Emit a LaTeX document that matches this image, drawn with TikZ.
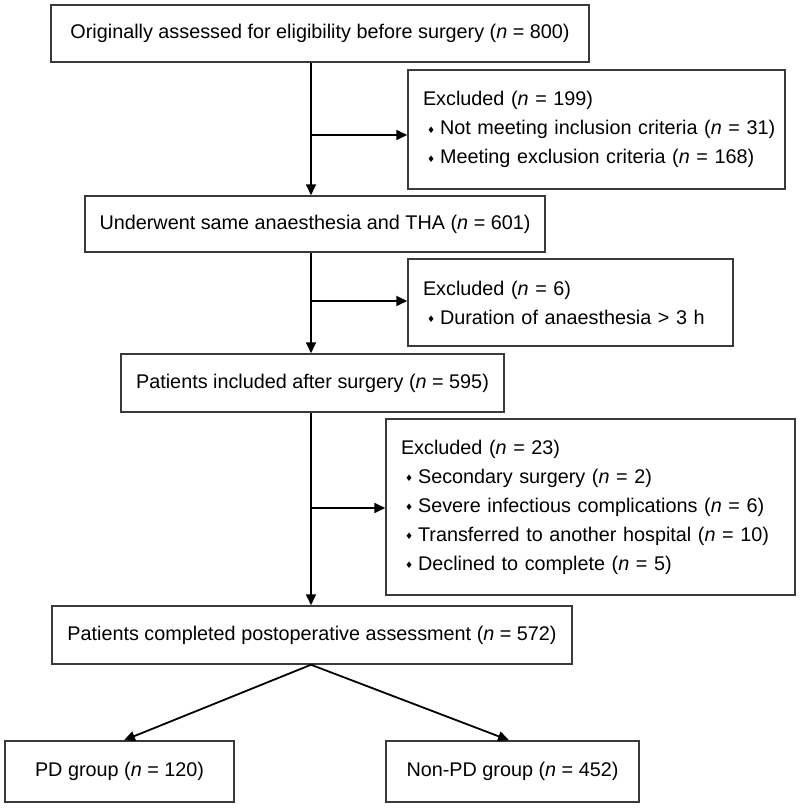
\documentclass[tikz,border=0pt]{standalone}
\usepackage{fontspec}
\setmainfont{Liberation Sans}
\newfontfamily\dejavu{DejaVu Sans}
\usetikzlibrary{arrows.meta,calc}
\definecolor{boxgray}{HTML}{3A3A3A}
\newcommand{\bul}{\raisebox{1.5pt}{\dejavu\fontsize{9}{9}\selectfont ♦}\hspace{5pt}}
\newcommand{\bline}[1]{\mbox{\hspace*{4pt}\bul #1}}
\begin{document}
\begin{tikzpicture}[x=1pt,y=-1pt,
  font=\fontsize{19.8}{29}\selectfont,
  mainbox/.style={draw=boxgray,line width=1.5pt,inner sep=0pt,align=center},
  exclbox/.style={draw=boxgray,line width=1.5pt,inner xsep=15pt,inner ysep=0pt,align=left},
  link/.style={line width=1.8pt,draw=black},
  arr/.style={link,-{Triangle[length=11pt,width=10pt]}}]
\useasboundingbox (0,0) rectangle (800,808);
\fill[white] (0,0) rectangle (800,808);

\node[mainbox,minimum width=538pt,minimum height=57pt] (b1) at (320,33.5)
  {Originally assessed for eligibility before surgery (\textit{n} = 800)};
\node[exclbox,text width=347pt,minimum height=119pt] (e1) at (596.5,129.5)
  {Excluded (\textit{n} = 199)\\
   \bline{Not meeting inclusion criteria (\textit{n} = 31)}\\
   \bline{Meeting exclusion criteria (\textit{n} = 168)}};
\node[mainbox,minimum width=460pt,minimum height=56pt] (b2) at (315,224)
  {Underwent same anaesthesia and THA (\textit{n} = 601)};
\node[exclbox,text width=295pt,minimum height=87pt] (e2) at (570.5,302.5)
  {Excluded (\textit{n} = 6)\\
   \bline{Duration of anaesthesia > 3 h}};
\node[mainbox,minimum width=383pt,minimum height=58pt] (b3) at (312.5,383)
  {Patients included after surgery (\textit{n} = 595)};
\node[exclbox,text width=379pt,minimum height=176pt] (e3) at (590.5,507)
  {Excluded (\textit{n} = 23)\\
   \bline{Secondary surgery (\textit{n} = 2)}\\
   \bline{Severe infectious complications (\textit{n} = 6)}\\
   \bline{Transferred to another hospital (\textit{n} = 10)}\\
   \bline{Declined to complete (\textit{n} = 5)}};
\node[mainbox,minimum width=520pt,minimum height=58pt] (b4) at (312,635)
  {Patients completed postoperative assessment (\textit{n} = 572)};
\node[mainbox,minimum width=229pt,minimum height=61pt] (pd) at (119.5,771.5)
  {PD group (\textit{n} = 120)};
\node[mainbox,minimum width=253pt,minimum height=61pt] (npd) at (512.5,771.5)
  {Non-PD group (\textit{n} = 452)};

\coordinate (c) at (311,0);
\coordinate (j1) at (311,135);
\coordinate (j2) at (311,301);
\coordinate (j3) at (311,508);
\coordinate (pdx) at (124,0);
\coordinate (npdx) at (509,0);

\draw[arr] (b1.south -| c) -- (b2.north -| c);
\draw[arr] (j1) -- (j1 -| e1.west);
\draw[arr] (b2.south -| c) -- (b3.north -| c);
\draw[arr] (j2) -- (j2 -| e2.west);
\draw[arr] (b3.south -| c) -- (b4.north -| c);
\draw[arr] (j3) -- (j3 -| e3.west);
\draw[arr] (b4.south -| c) -- (pd.north -| pdx);
\draw[arr] (b4.south -| c) -- (npd.north -| npdx);
\end{tikzpicture}
\end{document}
